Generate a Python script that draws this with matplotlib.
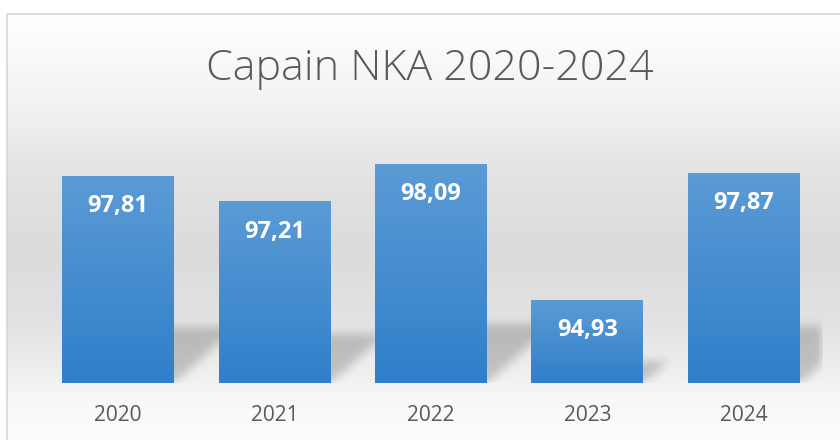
import numpy as np
import matplotlib
matplotlib.use("Agg")
from matplotlib import pyplot as plt
from matplotlib.patches import Rectangle

years = ["2020", "2021", "2022", "2023", "2024"]
values = [97.81, 97.21, 98.09, 94.93, 97.87]
labels = ["97,81", "97,21", "98,09", "94,93", "97,87"]
title = "Capain NKA 2020-2024"
ymin, ymax = 93.0, 99.0

W, H = 840, 440
plt.rcParams['font.family'] = ['Open Sans', 'DejaVu Sans']

fig = plt.figure(figsize=(W / 100., H / 100.), dpi=100)

# background: white-grey-white vertical gradient inside the chart frame
bg = fig.add_axes([0, 0, 1, 1], zorder=0)
bg.set_axis_off()
stops_y = [14, 100, 170, 250, 320, 370, 400, 440]
stops_c = [255, 243, 228, 219, 226, 238, 248, 252]
rows = np.interp(np.arange(H), stops_y, stops_c) / 255.
img = np.repeat(rows[:, None], W, axis=1)
img[:14, :] = 1.0
img[:, :7] = 1.0
bg.imshow(np.dstack([img, img, img]), extent=(0, W, H, 0), aspect='auto',
          interpolation='bilinear')
bg.add_patch(Rectangle((7, 14), W + 20, H + 20, fill=False,
                       edgecolor='#d9d9d9', lw=1.3))
bg.set_xlim(0, W)
bg.set_ylim(H, 0)
bg.text(430, 80, title, ha='center', va='baseline', fontsize=31,
        color='#595959', fontweight='light')

ax = fig.add_axes([40. / W, 57. / H, 782. / W, 258. / H], zorder=1)
ax.patch.set_alpha(0)
x = np.arange(len(years))
bw = 0.716
ax.set_xlim(-0.5, len(years) - 0.5)
ax.set_ylim(ymin, ymax)

bars = ax.bar(x, np.array(values) - ymin, bottom=ymin, width=bw,
              color='none', edgecolor='none', zorder=3)

# perspective shadow behind the bars, built in pixel space and blurred
bb = ax.bbox
px = np.arange(int(bb.x0), int(bb.x1)) + 0.5
py = np.arange(int(bb.y0), int(bb.y1)) + 0.5
mask = np.zeros((len(py), len(px)))
for p in bars:
    (l, b), (r, t) = ax.transData.transform(
        [(p.get_x(), p.get_y()), (p.get_x() + p.get_width(), p.get_y() + p.get_height())])
    hs = 0.27 * (t - b)
    for j, yy in enumerate(py):
        d = yy - b
        if 0 <= d <= hs:
            s = d * 1.1
            mask[j, (px >= l + s) & (px <= r + s)] = 1.0


def box_blur(a, r, axis):
    k = np.ones(2 * r + 1) / (2 * r + 1)
    return np.apply_along_axis(lambda v: np.convolve(v, k, mode='same'), axis, a)


for _ in range(3):
    mask = box_blur(mask, 4, 0)
    mask = box_blur(mask, 4, 1)

shadow = np.zeros((len(py), len(px), 4))
shadow[..., 3] = mask * 0.19
ax.imshow(shadow, extent=(-0.5, len(years) - 0.5, ymin, ymax), origin='lower',
          aspect='auto', zorder=1, interpolation='bilinear')

# gradient fill of each bar
top_c = np.array([0x5B, 0x9B, 0xD5]) / 255.
bot_c = np.array([0x30, 0x7F, 0xCA]) / 255.
tt = np.linspace(0, 1, 100)[:, None]
grad = (top_c * (1 - tt) + bot_c * tt)[:, None, :]
for p, lab in zip(bars, labels):
    x0, x1 = p.get_x(), p.get_x() + p.get_width()
    y0, y1 = p.get_y(), p.get_y() + p.get_height()
    ax.imshow(grad, extent=(x0, x1, y0, y1), aspect='auto', zorder=2,
              interpolation='bilinear')
    ax.annotate(lab, (p.get_x() + p.get_width() / 2, y1), xytext=(0, -21.5),
                textcoords='offset points', ha='center', va='center',
                color='white', fontsize=17, fontweight='bold', zorder=4)

ax.set_xlim(-0.5, len(years) - 0.5)
ax.set_ylim(ymin, ymax)
ax.set_xticks(x)
ax.set_xticklabels(years, fontsize=15, color='#595959')
ax.tick_params(axis='x', length=0, pad=16)
ax.set_yticks([])
for sp in ax.spines.values():
    sp.set_visible(False)

fig.savefig("out.png", dpi=100)
